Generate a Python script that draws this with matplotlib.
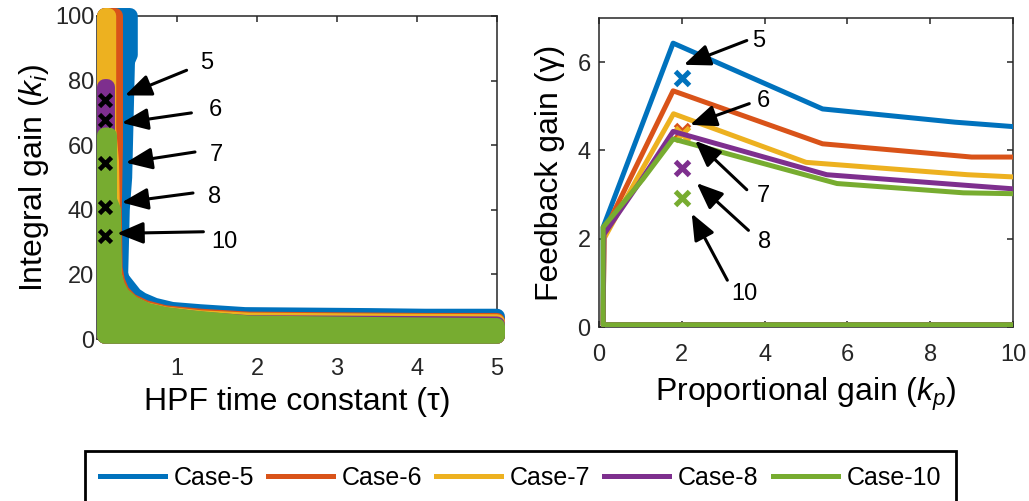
import matplotlib
matplotlib.use("Agg")
import matplotlib.pyplot as plt

plt.rcParams["font.family"] = ["Liberation Sans", "DejaVu Sans"]
plt.rcParams["mathtext.fontset"] = "custom"
plt.rcParams["mathtext.rm"] = "Liberation Sans"
plt.rcParams["mathtext.it"] = "Liberation Sans:italic"

CASES = ["Case-5", "Case-6", "Case-7", "Case-8", "Case-10"]
LABELS = ["5", "6", "7", "8", "10"]
COLORS = ["#0072BD", "#D95319", "#EDB120", "#7E2F8E", "#77AC30"]
AX_COLOR = "#262626"

# stable region boundary (tau, ki_max), ki grid runs from 1 up to 100
tau_5 = [0.1, 0.41, 0.41, 0.375, 0.34, 0.31, 0.29, 0.31, 0.39, 0.47, 0.56, 0.72, 0.94, 1.29, 1.85, 3.4, 4.1, 5.0]
ki_5 = [100, 100, 88, 86, 50, 40, 20, 18.5, 16, 13.5, 12, 10.3, 9.0, 8.3, 7.4, 7.1, 6.9, 6.9]
tau_6 = [0.1, 0.225, 0.225, 0.21, 0.22, 0.25, 0.31, 0.42, 0.6, 0.85, 1.3, 1.9, 4.1, 5.0]
ki_6 = [100, 100, 60, 40, 22, 18, 14.5, 11.7, 9.6, 8.0, 6.9, 6.0, 5.6, 5.6]
tau_7 = [0.1, 0.14, 0.14, 0.175, 0.19, 0.21, 0.24, 0.3, 0.42, 0.6, 0.85, 1.3, 1.9, 3.6, 5.0]
ki_7 = [100, 100, 65, 55, 35, 20, 16.5, 13.5, 11, 9.0, 7.6, 6.4, 5.7, 5.4, 5.2]
tau_8 = [0.1, 0.125, 0.125, 0.14, 0.15, 0.2, 0.23, 0.3, 0.42, 0.6, 0.86, 1.3, 1.9, 5.0]
ki_8 = [78, 78, 62, 46, 30, 20, 16.5, 13.5, 10.8, 8.7, 7.3, 6.0, 4.9, 4.5]
tau_10 = [0.1, 0.15, 0.15, 0.2, 0.21, 0.25, 0.31, 0.45, 0.63, 0.86, 1.16, 1.41, 1.9, 3.6, 5.0]
ki_10 = [63, 63, 43, 40, 20, 16.5, 13.7, 10.8, 8.7, 7.4, 6.5, 5.9, 4.8, 4.3, 4.0]
KI_MIN = 1

# chosen design points
tau_sel = [0.1, 0.1, 0.1, 0.1, 0.1]
ki_sel = [74, 67.7, 54.4, 40.8, 31.9]

# stability boundary in the (kp, gamma) plane
kp_5 = [10, 0.1, 0.1, 1.79, 5.4, 8.6, 10]
gamma_5 = [0.05, 0.05, 2.26, 6.43, 4.94, 4.64, 4.54]
kp_6 = [10, 0.1, 0.12, 1.79, 5.4, 9.0, 10]
gamma_6 = [0.05, 0.05, 2.15, 5.35, 4.15, 3.85, 3.85]
kp_7 = [10, 0.1, 0.12, 1.0, 1.8, 5.0, 8.9, 10]
gamma_7 = [0.05, 0.05, 2.0, 3.5, 4.83, 3.73, 3.45, 3.40]
kp_8 = [10, 0.1, 0.12, 1.0, 1.79, 5.5, 9.0, 10]
gamma_8 = [0.05, 0.05, 2.1, 3.3, 4.43, 3.45, 3.2, 3.13]
kp_10 = [10, 0.1, 0.1, 1.06, 1.79, 5.75, 8.8, 10]
gamma_10 = [0.05, 0.05, 2.26, 3.35, 4.26, 3.25, 3.04, 3.02]

kp_sel = [2, 2, 2, 2, 2]
gamma_sel = [5.65, 4.45, 4.38, 3.6, 2.92]

# annotation text / arrow tail / arrow head, left panel
left_txt = [(1.375, 85.3), (1.475, 70.8), (1.49, 56.9), (1.475, 43.9), (1.59, 30.0)]
left_tail = [(1.12, 83.2), (1.18, 70.0), (1.225, 57.9), (1.2, 45.2), (1.33, 33.2)]
left_head = [(0.35, 75.4), (0.31, 66.9), (0.36, 54.6), (0.31, 42.3), (0.25, 32.7)]
# right panel
right_txt = [(3.85, 6.48), (3.97, 5.11), (3.98, 2.97), (4.01, 1.92), (3.51, 0.74)]
right_tail = [(3.57, 6.49), (3.63, 5.06), (3.57, 3.11), (3.61, 2.19), (3.1, 1.06)]
right_head = [(2.05, 5.94), (2.2, 4.58), (2.32, 4.22), (2.36, 3.26), (2.24, 2.57)]

regions = [(tau_5, ki_5), (tau_6, ki_6), (tau_7, ki_7), (tau_8, ki_8), (tau_10, ki_10)]
curves = [(kp_5, gamma_5), (kp_6, gamma_6), (kp_7, gamma_7), (kp_8, gamma_8), (kp_10, gamma_10)]

fig = plt.figure(figsize=(10.29, 5.01), dpi=100)
ax1 = fig.add_axes([97 / 1029, 1 - 339 / 501, 400 / 1029, 323 / 501])
ax2 = fig.add_axes([599 / 1029, 1 - 327 / 501, 414 / 1029, 309 / 501])

arrow_kw = dict(arrowstyle="-|>,head_length=0.8,head_width=0.33", color="k",
                lw=2.2, mutation_scale=20, shrinkA=0, shrinkB=0)


def style_axes(ax):
    for sp in ax.spines.values():
        sp.set_color(AX_COLOR)
        sp.set_linewidth(1.1)
    ax.tick_params(direction="in", top=True, right=True, length=4, width=1.1,
                   colors=AX_COLOR, labelsize=17, labelcolor=AX_COLOR)


# left: stable regions in the (tau, ki) plane
for (tau, ki), c in zip(regions, COLORS):
    xs = [tau[0]] + tau + [tau[-1]]
    ys = [KI_MIN] + ki + [KI_MIN]
    poly = ax1.fill(xs, ys, facecolor=c, edgecolor=c, lw=11.5, zorder=3, clip_on=False)[0]
    poly.set_joinstyle("round")
ax1.plot(tau_sel, ki_sel, "x", color="k", ms=8.5, mew=3.3, zorder=5, clip_on=False)
for lab, t, a, h in zip(LABELS, left_txt, left_tail, left_head):
    ax1.annotate("", xy=h, xytext=a, arrowprops=arrow_kw, zorder=6)
    ax1.text(t[0], t[1], lab, fontsize=17, ha="center", va="center", zorder=6)

ax1.set_xlim(0, 5)
ax1.set_ylim(0, 100)
ax1.set_xticks([1, 2, 3, 4, 5])
ax1.set_yticks([0, 20, 40, 60, 80, 100])
style_axes(ax1)
ax1.tick_params(axis="x", pad=14)
ax1.tick_params(axis="y", pad=2)
ax1.set_xlabel("HPF time constant (τ)", fontsize=23, labelpad=5)
ax1.set_ylabel("Integral gain ($k_i$)", fontsize=23, labelpad=3)

# right: stability boundaries in the (kp, gamma) plane
handles = []
for (kp, g), c, name, xs, ys in zip(curves, COLORS, CASES, kp_sel, gamma_sel):
    ln, = ax2.plot(kp, g, color=c, lw=3.6, label=name, zorder=3)
    ax2.plot(xs, ys, "x", color=c, ms=10, mew=3.6, zorder=3)
    handles.append(ln)
for lab, t, a, h in zip(LABELS, right_txt, right_tail, right_head):
    ax2.annotate("", xy=h, xytext=a, arrowprops=arrow_kw, zorder=6)
    ax2.text(t[0], t[1], lab, fontsize=17, ha="center", va="center", zorder=6)

ax2.set_xlim(0, 10)
ax2.set_ylim(0, 7)
ax2.set_xticks([0, 2, 4, 6, 8, 10])
ax2.set_yticks([0, 2, 4, 6])
style_axes(ax2)
ax2.tick_params(axis="x", pad=12)
ax2.tick_params(axis="y", pad=6)
ax2.set_xlabel("Proportional gain ($k_p$)", fontsize=23, labelpad=7)
ax2.set_ylabel("Feedback gain (γ)", fontsize=23, labelpad=9)

leg = fig.legend(handles=handles, loc="upper center", bbox_to_anchor=(0.506, 0.1),
                 ncol=5, fontsize=18, handlelength=2.6, handletextpad=0.35,
                 columnspacing=0.55, borderpad=0.6, borderaxespad=0, fancybox=False,
                 framealpha=1, edgecolor="k")
leg.get_frame().set_linewidth(2.0)

fig.savefig("out.png", dpi=100)
